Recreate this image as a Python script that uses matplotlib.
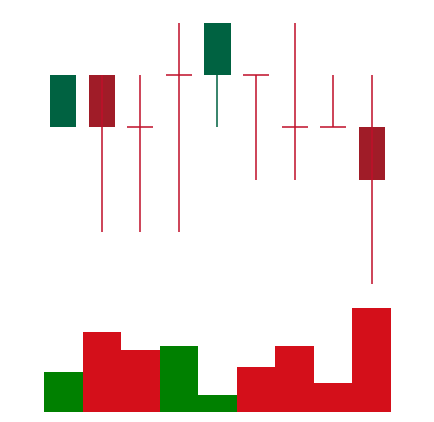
import matplotlib
matplotlib.use("Agg")
import matplotlib.pyplot as plt

# OHLC data (price levels)
opens  = [4, 5, 4, 5, 5, 5, 4, 4, 4]
highs  = [5, 5, 5, 6, 6, 5, 6, 5, 5]
lows   = [4, 2, 2, 2, 4, 3, 3, 4, 1]
closes = [5, 4, 4, 5, 6, 5, 4, 4, 3]

# Volume data
volumes = [40, 80, 62, 66, 17, 45, 66, 29, 104]
vol_up  = [True, False, False, True, True, False, False, False, False]

UP_BODY = "#006241"
DOWN_BODY = "#a01c28"
DOWN_WICK = "#c0102a"
VOL_UP = "#008000"
VOL_DOWN = "#d40f1a"

W, H = 434, 422
fig = plt.figure(figsize=(W / 100, H / 100), dpi=100)
fig.patch.set_facecolor("white")

left = 44 / W
width = (391 - 44) / W

# candle axes: price 1 at y=284px, price 6 at y=23px
ax = fig.add_axes([left, (H - 284) / H, width, (284 - 23) / H])
# volume axes: base at y=411.7px, top (104) at 308px
axv = fig.add_axes([left, (H - 411.7) / H, width, (411.7 - 308) / H])

bw = 0.68
for i, (o, h, l, c) in enumerate(zip(opens, highs, lows, closes)):
    if c > o:
        col, wcol = UP_BODY, UP_BODY
    else:
        col, wcol = DOWN_BODY, DOWN_WICK
    ax.vlines(i, l, h, color=wcol, linewidth=1.1, clip_on=False)
    if c == o:
        ax.hlines(o, i - bw / 2, i + bw / 2, color=DOWN_WICK, linewidth=1.1, clip_on=False)
    else:
        ax.bar(i, abs(c - o), bottom=min(o, c), width=bw, color=col,
               edgecolor="none", clip_on=False)

ax.set_xlim(-0.5, len(opens) - 0.5)
ax.set_ylim(1, 6)
ax.axis("off")

vcols = [VOL_UP if u else VOL_DOWN for u in vol_up]
axv.bar(range(len(volumes)), volumes, width=1.0, color=vcols, edgecolor="none")
axv.set_xlim(-0.5, len(volumes) - 0.5)
axv.set_ylim(0, max(volumes))
axv.axis("off")

fig.savefig("out.png", dpi=100, facecolor="white")
